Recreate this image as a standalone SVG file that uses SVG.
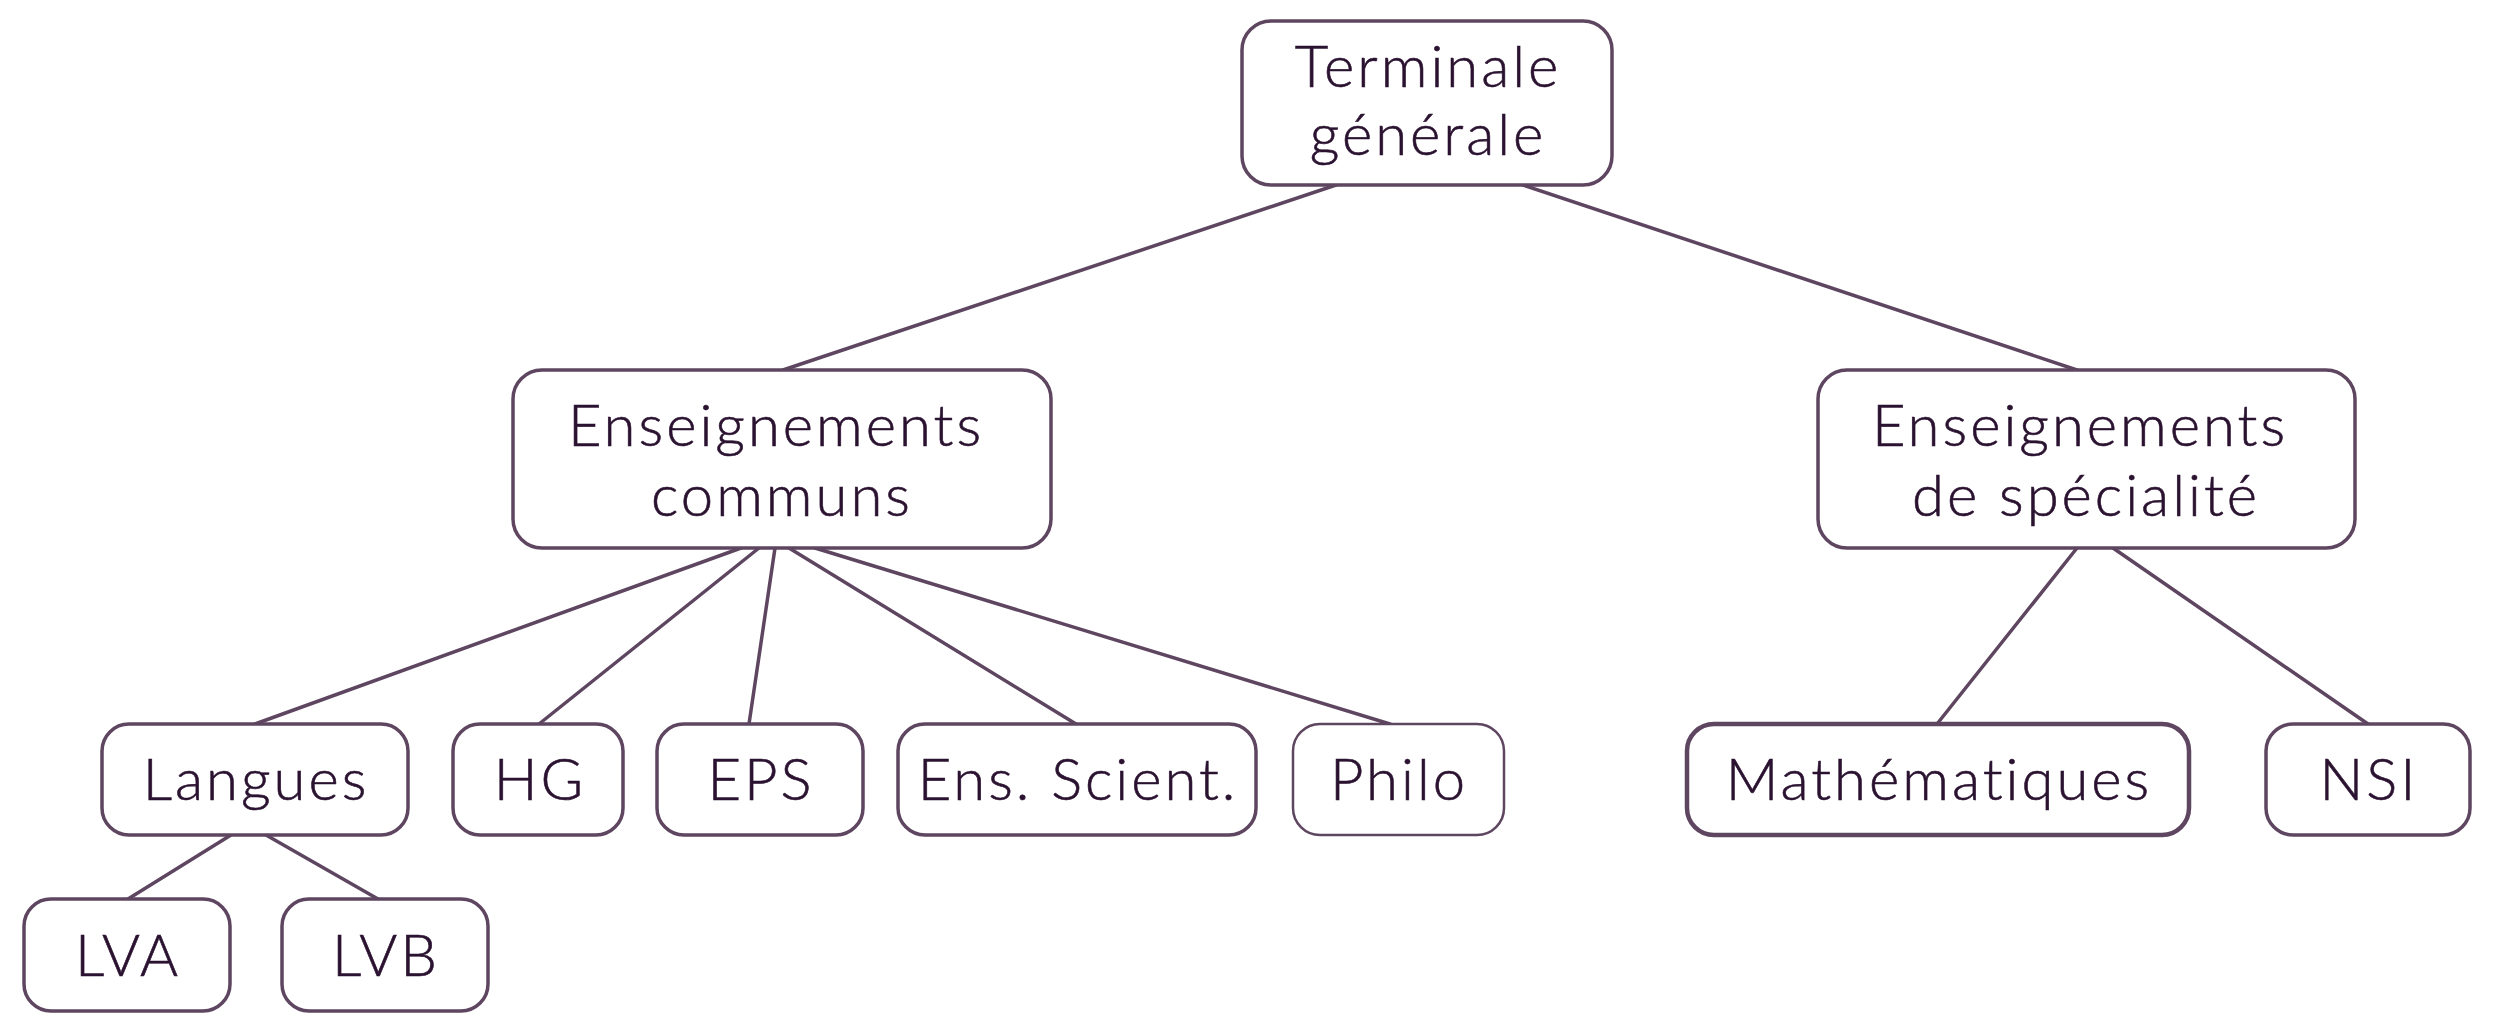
<svg xmlns="http://www.w3.org/2000/svg" width="2500" height="1031" viewBox="0 0 2500 1031">
<style>
.n rect{fill:#ffffff;stroke:#5e4560;stroke-width:3.5}
.n text{font-family:Lato,"Open Sans","Liberation Sans",sans-serif;font-weight:300;font-size:58px;letter-spacing:3px;fill:#2a1230;stroke:#2a1230;stroke-width:0.6;text-anchor:middle}
#edges line{stroke:#5e4560;stroke-width:3.5;stroke-linecap:round}
</style>
<rect width="2500" height="1031" fill="#ffffff"/>
<g id="edges">
<line x1="1336" y1="185" x2="783" y2="370"/>
<line x1="1523" y1="185" x2="2077" y2="370"/>
<line x1="741" y1="548" x2="255" y2="724"/>
<line x1="759" y1="548" x2="539" y2="724"/>
<line x1="775" y1="548" x2="749" y2="724"/>
<line x1="789" y1="548" x2="1076" y2="724"/>
<line x1="815" y1="548" x2="1390" y2="724"/>
<line x1="2077" y1="548" x2="1937" y2="724"/>
<line x1="2113" y1="548" x2="2368" y2="724"/>
<line x1="231" y1="835" x2="128" y2="899"/>
<line x1="266" y1="835" x2="378" y2="899"/>
</g>
<g id="terminale" class="n"><rect x="1242" y="21" width="370" height="164" rx="29"/><text x="1428" y="87">Terminale</text><text x="1428" y="155">générale</text></g>
<g id="communs" class="n"><rect x="513" y="370" width="538" height="178" rx="29"/><text x="776" y="446">Enseignements</text><text x="782" y="516">communs</text></g>
<g id="specialite" class="n"><rect x="1818" y="370" width="537" height="178" rx="29"/><text x="2080" y="446">Enseignements</text><text x="2086" y="516">de spécialité</text></g>
<g id="langues" class="n"><rect x="102" y="724" width="306" height="111" rx="27"/><text x="256" y="800">Langues</text></g>
<g id="hg" class="n"><rect x="453" y="724" width="170" height="111" rx="27"/><text x="540" y="800">HG</text></g>
<g id="eps" class="n"><rect x="657" y="724" width="206" height="111" rx="27"/><text x="761" y="800">EPS</text></g>
<g id="ensscient" class="n"><rect x="898" y="724" width="358" height="111" rx="27"/><text x="1078" y="800">Ens. Scient.</text></g>
<g id="philo" class="n"><rect x="1293" y="724" width="211" height="111" rx="27" style="stroke-width:2.5"/><text x="1399" y="800">Philo</text></g>
<g id="maths" class="n"><rect x="1687" y="724" width="502" height="111" rx="27" style="stroke-width:4.5"/><text x="1939" y="800">Mathématiques</text></g>
<g id="nsi" class="n"><rect x="2266" y="724" width="204" height="111" rx="27"/><text x="2369" y="800">NSI</text></g>
<g id="lva" class="n"><rect x="24" y="899" width="206" height="112" rx="27"/><text x="128" y="976">LVA</text></g>
<g id="lvb" class="n"><rect x="282" y="899" width="206" height="112" rx="27"/><text x="386" y="976">LVB</text></g>
</svg>
